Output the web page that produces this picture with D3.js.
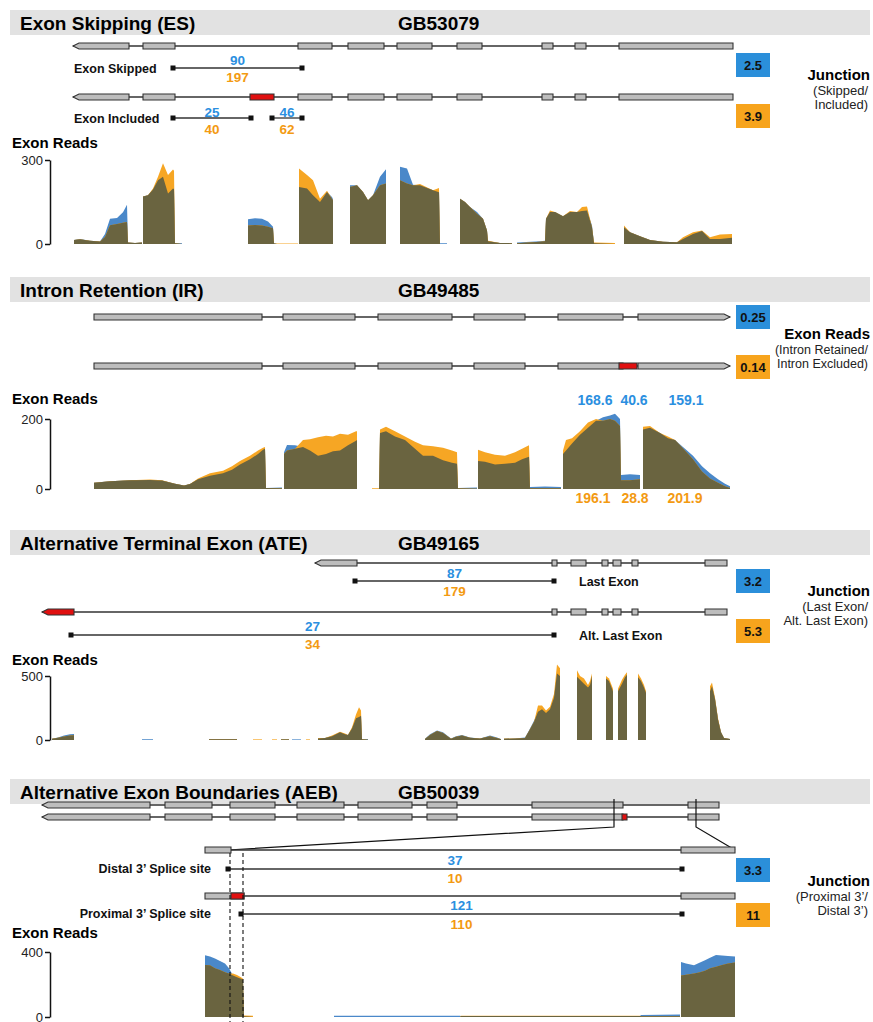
<!DOCTYPE html>
<html lang="en">
<head>
<meta charset="utf-8">
<title>Splicing events</title>
<script src="https://cdnjs.cloudflare.com/ajax/libs/d3/7.8.5/d3.min.js"></script>
<style>
  body { margin: 0; background: #fff; }
  text { font-family: "Liberation Sans", Arial, sans-serif; }
</style>
</head>
<body>
<div id="chart"></div>
<script>
// ---------- data (positions in track units, reads in counts) ----------

// Exon Skipping (GB53079)
const esExons = [[73,129,"l"],[143,175],[298,332],[348,384],[397,432],[457,482],[542,553],[575,586],[619,733]];
const esRed = [[250,274]];
const esJunctions = [
  {from:173, to:302, top:"90", bottom:"197"},
  {from:173, to:251, top:"25", bottom:"40"},
  {from:272, to:302, top:"46", bottom:"62"}
];
const esRatios = ["2.5", "3.9"];
const esCov = [
  [[74,14,14],[80,18,17],[90,12,12],[100,9,9],[105,36,25],[110,90,67],[117,93,71],[123,113,76],[127,140,79],[128,5,5],[135,4,4],[142,5,5]],
  [[143,170,170],[148,174,174],[153,195,198],[158,228,240],[163,240,288],[168,180,246],[173,198,266],[174,196,262],[175,4,3],[182,3,0]],
  [[248,88,66],[255,92,68],[262,90,66],[268,80,62],[273,62,56],[274,4,2],[277,0,2],[298,0,2]],
  [[299,204,270],[307,198,246],[313,174,228],[320,150,162],[327,186,190],[332,168,162],[333,160,155]],
  [[350,210,204],[357,210,210],[363,186,186],[368,156,156],[373,174,174],[380,240,210],[386,267,216]],
  [[400,276,228],[407,270,216],[413,212,210],[420,210,214],[433,192,192],[439,185,200],[440,3,0],[447,3,0]],
  [[460,162,162],[465,150,150],[470,132,132],[477,114,108],[483,90,90],[487,48,48],[488,10,12],[500,4,4],[512,4,3]],
  [[517,5,3],[540,10,8],[545,12,10],[546,90,90],[550,114,120],[555,114,114],[563,99,99],[570,114,118],[577,114,114],[582,118,132],[587,120,134],[592,66,60],[594,3,5],[615,0,4]],
  [[624,60,66],[630,42,42],[640,28,28],[650,14,14],[663,8,8],[677,6,6],[683,18,24],[693,36,42],[702,46,48],[710,18,24],[720,18,34],[732,22,36]]
];

// Intron Retention (GB49485)
const irExons = [[94,262],[283,355],[378,452],[474,525],[558,623],[638,730,"r"]];
const irRed = [[619,637]];
const irRatios = ["0.25", "0.14"];
const irTopLabels = [[595,"168.6"],[634,"40.6"],[686,"159.1"]];
const irBottomLabels = [[593,"196.1"],[635,"28.8"],[685,"201.9"]];
const irCov = [
  [[94,18,18],[110,22,22],[130,25,25],[150,26,27],[162,24,25],[175,15,15],[184,10,10],[190,14,14],[198,28,30],[210,38,45],[223,45,52],[232,55,65],[240,70,80],[250,85,95],[258,100,110],[263,112,118],[265,115,120],[266,3,3],[282,4,2]],
  [[284,105,100],[287,126,110],[295,125,115],[303,120,140],[310,110,142],[318,95,148],[326,100,152],[333,108,150],[340,110,158],[348,125,155],[356,138,165],[357,140,165]],
  [[372,0,2],[379,0,2],[380,160,170],[386,165,178],[395,150,165],[405,140,150],[415,115,135],[423,95,125],[433,95,122],[443,82,118],[452,75,110],[457,72,105],[458,3,2],[477,4,1]],
  [[478,80,112],[485,78,105],[495,70,98],[505,72,95],[515,75,105],[522,85,115],[529,92,125],[530,6,2],[545,7,2],[561,6,2]],
  [[563,100,110],[566,110,140],[572,130,145],[580,155,165],[588,175,190],[596,195,200],[603,205,195],[610,210,200],[615,215,195],[620,200,180],[621,40,25],[630,42,25],[640,40,28]],
  [[643,170,178],[650,175,180],[660,160,160],[668,145,150],[675,140,140],[685,115,110],[693,95,85],[702,65,50],[710,45,30],[718,28,18],[725,15,8],[730,8,3]]
];

// Alternative Terminal Exon (GB49165)
const ateExonsA = [[315,357,"l"],[552,557],[571,586],[602,608],[613,621],[632,638],[705,727]];
const ateExonsB = [[552,557],[571,586],[602,608],[613,621],[632,638],[705,727]];
const ateRedB = [[42,74,"l"]];
const ateJunctions = [
  {from:355, to:554, top:"87", bottom:"179", name:"Last Exon"},
  {from:71, to:554, top:"27", bottom:"34", name:"Alt. Last Exon"}
];
const ateRatios = ["3.2", "5.3"];
const ateCov = [
  [[52,10,10],[58,20,18],[64,35,28],[70,45,35],[74,47,38]],
  [[142,6,0],[153,6,0]],
  [[209,6,6],[237,6,6]],
  [[253,0,5],[262,0,5]], [[272,0,5],[277,0,5]], [[281,5,5],[289,5,5]], [[292,5,0],[301,5,0]], [[306,0,5],[310,0,5]],
  [[318,12,15],[325,15,15],[332,30,35],[340,60,65],[345,45,50],[348,40,40],[352,90,100],[356,170,200],[359,180,255],[361,190,230],[362,8,5],[368,8,2]],
  [[425,10,8],[430,45,40],[437,75,70],[443,60,55],[451,12,10],[456,30,25],[462,40,35],[470,20,18],[480,12,12],[490,35,30],[497,20,15],[501,8,5]],
  [[504,10,12],[515,12,12],[525,20,15],[529,75,70],[534,150,140],[538,220,270],[542,240,270],[546,210,230],[550,240,260],[554,330,360],[557,520,590],[560,500,560]],
  [[577,495,545],[580,470,500],[584,440,480],[588,410,430],[590,430,460],[592,500,520]],
  [[606,480,500],[609,460,480],[613,380,400]],
  [[618,380,400],[622,440,470],[625,490,510],[627,510,530]],
  [[638,490,520],[641,460,480],[644,410,430],[646,370,380]],
  [[710,380,420],[712,420,450],[715,320,330],[718,160,170],[721,60,60],[724,15,15],[730,8,8]]
];

// Alternative Exon Boundaries (GB50039)
const aebExons = [[42,150,"l"],[165,212],[230,275],[297,344],[358,412],[427,457],[532,623],[688,719]];
const aebRed = [[622,627]];
const aebLinks = [[614,228],[696,735]];
const aebZoomExonsA = [[205,231],[681,735]];
const aebZoomExonsB = [[205,244],[681,735]];
const aebZoomRed = [[231,244]];
const aebJunctions = [
  {from:228, to:682, top:"37", bottom:"10", name:"Distal 3\u2019 Splice site"},
  {from:241, to:682, top:"121", bottom:"110", name:"Proximal 3\u2019 Splice site"}
];
const aebRatios = ["3.3", "11"];
const aebSites = [230, 243];
const aebCov = [
  [[205,380,320],[210,372,318],[215,360,300],[220,345,290],[225,330,275],[229,300,268],[233,255,268],[237,245,258],[241,235,245],[243,228,235],[244,5,10],[253,0,8]],
  [[334,8,0],[460,8,0],[461,6,8],[640,6,8],[641,12,4],[680,15,4]],
  [[681,338,255],[686,330,260],[694,318,268],[700,335,275],[705,350,285],[710,365,300],[716,381,310],[722,378,320],[728,375,330],[735,372,335]]
];

// ---------- drawing ----------
const width = 873, height = 1022;
const covBlue = "#4a88c9", covOrange = "#f6a624", covOlive = "#6a6440";
const boxBlue = "#2b8fda", boxOrange = "#f7a41d";
const txtBlue = "#2b8fe0", txtOrange = "#f39a12";

const svg = d3.select("#chart").append("svg")
  .attr("width", width).attr("height", height)
  .attr("viewBox", [0, 0, width, height]);

// track position -> page x (one locus axis shared by all panels)
const x = d3.scaleLinear().domain([0, 873]).range([0, 873]);

function header(top, title, geneId) {
  svg.append("rect").attr("x", 10).attr("y", top).attr("width", 860).attr("height", 25).attr("fill", "#e2e2e2");
  svg.append("text").attr("x", 20).attr("y", top + 20).attr("font-size", 19).attr("font-weight", "bold").text(title);
  svg.append("text").attr("x", 398).attr("y", top + 20).attr("font-size", 19).attr("font-weight", "bold").text(geneId);
}

function exonPath(d, y) {
  const x0 = x(d[0]), x1 = x(d[1]), h = 3;
  if (d[2] === "l") return `M${x0},${y}L${x0+6},${y-h}L${x1},${y-h}L${x1},${y+h}L${x0+6},${y+h}Z`;
  if (d[2] === "r") return `M${x1},${y}L${x1-6},${y-h}L${x0},${y-h}L${x0},${y+h}L${x1-6},${y+h}Z`;
  return `M${x0},${y-h}L${x1},${y-h}L${x1},${y+h}L${x0},${y+h}Z`;
}

function gene(y, exons, red, from, to) {
  const g = svg.append("g");
  g.append("line").attr("x1", x(from)).attr("x2", x(to)).attr("y1", y).attr("y2", y)
    .attr("stroke", "#333").attr("stroke-width", 1.4);
  g.selectAll("path.exon").data(exons).join("path").attr("class", "exon")
    .attr("d", d => exonPath(d, y)).attr("fill", "#bdbdbd").attr("stroke", "#333").attr("stroke-width", 1.1);
  g.selectAll("path.red").data(red || []).join("path").attr("class", "red")
    .attr("d", d => exonPath(d, y)).attr("fill", "#e01010").attr("stroke", "#333").attr("stroke-width", 1.1);
}

function junction(y, j) {
  const g = svg.append("g");
  g.append("line").attr("x1", x(j.from)).attr("x2", x(j.to)).attr("y1", y).attr("y2", y)
    .attr("stroke", "#333").attr("stroke-width", 1.3);
  g.selectAll("rect").data([j.from, j.to]).join("rect")
    .attr("x", d => x(d) - 2.5).attr("y", y - 2.5).attr("width", 5).attr("height", 5).attr("fill", "#111");
  return (x(j.from) + x(j.to)) / 2;
}

function num(cx, y, t, color, size) {
  svg.append("text").attr("x", cx).attr("y", y).attr("text-anchor", "middle")
    .attr("font-size", size || 13.5).attr("font-weight", "bold").attr("fill", color).text(t);
}

function label(xp, y, t, anchor) {
  svg.append("text").attr("x", xp).attr("y", y).attr("text-anchor", anchor || "start")
    .attr("font-size", 12.5).attr("font-weight", "bold").attr("fill", "#111").text(t);
}

function box(y, t, color) {
  svg.append("rect").attr("x", 736).attr("y", y).attr("width", 34).attr("height", 24).attr("fill", color);
  svg.append("text").attr("x", 753).attr("y", y + 16.5).attr("text-anchor", "middle")
    .attr("font-size", 13).attr("font-weight", "bold").attr("fill", "#111").text(t);
}

function sideNote(y, lines, gap, size) {
  svg.append("text").attr("x", 870).attr("y", y).attr("text-anchor", "end")
    .attr("font-size", 15).attr("font-weight", "bold").text(lines[0]);
  lines.slice(1).forEach((l, i) => {
    svg.append("text").attr("x", 868).attr("y", y + gap * (i + 1)).attr("text-anchor", "end")
      .attr("font-size", size || 13).attr("fill", "#222").text(l);
  });
}

function coverage(labelY, y0, y1, max, segs) {
  svg.append("text").attr("x", 12).attr("y", labelY).attr("font-size", 15).attr("font-weight", "bold").text("Exon Reads");
  const y = d3.scaleLinear().domain([0, max]).range([y0, y1]);
  const axis = svg.append("g").attr("transform", "translate(50,0)")
    .call(d3.axisLeft(y).tickValues([0, max]).tickSize(5).tickSizeOuter(0).tickPadding(2));
  axis.selectAll("path, line").attr("stroke", "#111").attr("stroke-width", 1.5);
  axis.selectAll("text").attr("font-size", 13).attr("fill", "#222")
    .attr("font-family", '"Liberation Sans", Arial, sans-serif');
  const area = f => d3.area().x(d => x(d[0])).y0(y(0)).y1(d => y(f(d)));
  const g = svg.append("g");
  segs.forEach(s => {
    g.append("path").datum(s).attr("d", area(d => d[1])).attr("fill", covBlue);
    g.append("path").datum(s).attr("d", area(d => d[2])).attr("fill", covOrange);
    g.append("path").datum(s).attr("d", area(d => Math.min(d[1], d[2]))).attr("fill", covOlive);
  });
}

// ----- Panel 1: Exon Skipping -----
header(10, "Exon Skipping (ES)", "GB53079");
gene(46, esExons, [], 73, 733);
gene(97, esExons, esRed, 73, 733);
label(74, 73, "Exon Skipped");
label(74, 123, "Exon Included");
[[68, esJunctions[0], 65, 82], [118, esJunctions[1], 117, 134], [118, esJunctions[2], 117, 134]].forEach(([jy, j, ty, by]) => {
  const cx = junction(jy, j);
  num(cx, ty, j.top, txtBlue);
  num(cx, by, j.bottom, txtOrange);
});
box(53, esRatios[0], boxBlue);
box(104, esRatios[1], boxOrange);
sideNote(80, ["Junction", "(Skipped/", "Included)"], 14.5);
coverage(148, 244, 160, 300, esCov);

// ----- Panel 2: Intron Retention -----
header(277, "Intron Retention (IR)", "GB49485");
gene(317, irExons, [], 94, 730);
gene(366, irExons, irRed, 94, 730);
box(305, irRatios[0], boxBlue);
box(355, irRatios[1], boxOrange);
sideNote(339, ["Exon Reads", "(Intron Retained/", "Intron Excluded)"], 14.5, 12.5);
coverage(404, 489, 419, 200, irCov);
irTopLabels.forEach(([p, t]) => num(x(p), 405, t, txtBlue, 14));
irBottomLabels.forEach(([p, t]) => num(x(p), 503, t, txtOrange, 14));

// ----- Panel 3: Alternative Terminal Exon -----
header(530, "Alternative Terminal Exon (ATE)", "GB49165");
gene(563, ateExonsA, [], 315, 727);
gene(612, ateExonsB, ateRedB, 42, 727);
[[581, ateJunctions[0], 578, 596], [635, ateJunctions[1], 631, 649]].forEach(([jy, j, ty, by]) => {
  const cx = junction(jy, j);
  num(cx, ty, j.top, txtBlue);
  num(cx, by, j.bottom, txtOrange);
  label(579, jy + 5, j.name);
});
box(569, ateRatios[0], boxBlue);
box(619, ateRatios[1], boxOrange);
sideNote(596, ["Junction", "(Last Exon/", "Alt. Last Exon)"], 14.5);
coverage(665, 740, 676, 500, ateCov);

// ----- Panel 4: Alternative Exon Boundaries -----
header(779, "Alternative Exon Boundaries (AEB)", "GB50039");
gene(805, aebExons, [], 42, 719);
gene(817, aebExons, aebRed, 42, 719);
aebLinks.forEach(([top, bottom]) => {
  svg.append("path")
    .attr("d", `M${x(top)},799L${x(top)},827L${x(bottom)},850`)
    .attr("fill", "none").attr("stroke", "#111").attr("stroke-width", 1.2);
});
gene(850, aebZoomExonsA, [], 205, 735);
gene(896, aebZoomExonsB, aebZoomRed, 205, 735);
[[869, aebJunctions[0], 865, 883], [914, aebJunctions[1], 910, 929]].forEach(([jy, j, ty, by]) => {
  const cx = junction(jy, j);
  num(cx, ty, j.top, txtBlue);
  num(cx, by, j.bottom, txtOrange);
  label(211, jy + 4, j.name, "end");
});
box(858, aebRatios[0], boxBlue);
box(903, aebRatios[1], boxOrange);
sideNote(886, ["Junction", "(Proximal 3\u2019/", "Distal 3\u2019)"], 14.5);
coverage(938, 1017, 952, 400, aebCov);
svg.selectAll("line.site").data(aebSites).join("line").attr("class", "site")
  .attr("x1", d => x(d)).attr("x2", d => x(d)).attr("y1", 853).attr("y2", 1022)
  .attr("stroke", "#111").attr("stroke-width", 1.1).attr("stroke-dasharray", "4,3");
</script>
</body>
</html>
